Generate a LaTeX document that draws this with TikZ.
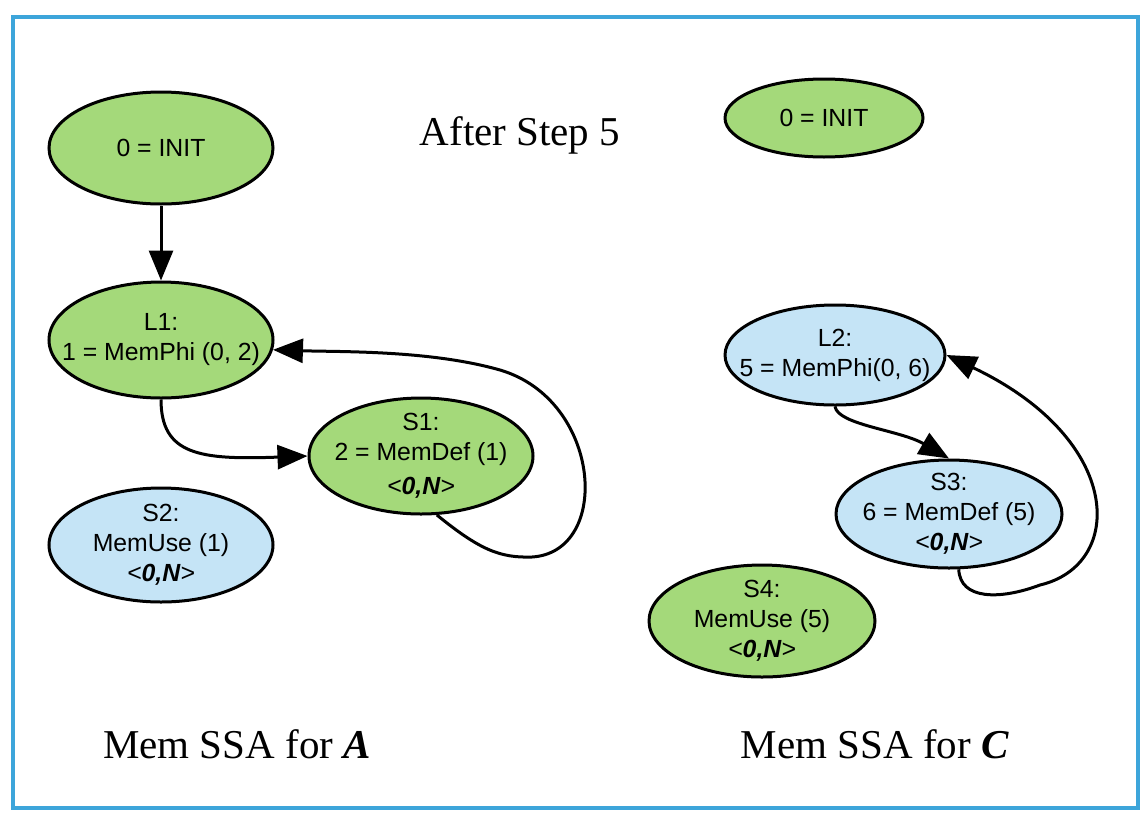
\documentclass[tikz,border=0pt]{standalone}
\usepackage{fontspec}
\setmainfont{Liberation Serif}
\newfontfamily\nodefont{Liberation Sans}
\usetikzlibrary{shapes.geometric,arrows.meta}
\definecolor{defgreen}{RGB}{164,217,122}
\definecolor{useblue}{RGB}{197,228,246}
\definecolor{frameblue}{RGB}{61,165,218}
\tikzset{
  memnode/.style={ellipse, draw=black, line width=3pt, inner xsep=-60pt, inner ysep=-40pt,
    align=center, font=\nodefont\fontsize{24.8}{30}\selectfont},
  greennode/.style={memnode, fill=defgreen},
  bluenode/.style={memnode, fill=useblue},
  arr/.style={draw=black, line width=3pt, -{Triangle[length=30pt,width=24pt]}},
  caption/.style={font=\fontsize{41}{48}\selectfont, anchor=base, inner sep=0pt}
}
\newcommand{\vers}{\textit{<\textbf{0,N}>}}
\begin{document}
\begin{tikzpicture}[x=1pt,y=-1pt]
  \useasboundingbox (0,0) rectangle (1147,817);
  \fill[white] (0,0) rectangle (1147,817);
  \draw[frameblue, line width=4pt] (13,16.5) rectangle (1138,808);

  % captions
  \node[caption] (title) at (520,145) {After Step 5};
  \node[caption] (capA) at (237,758) {Mem SSA for \textbf{\textit{A}}};
  \node[caption] (capC) at (875,758) {Mem SSA for \textbf{\textit{C}}};

  % Mem SSA for A
  \node[greennode, minimum width=224pt, minimum height=112pt] (initA) at (161,148) {0 = INIT};
  \node[greennode, minimum width=224pt, minimum height=116pt] (L1) at (161,340) {L1:\\1 = MemPhi (0, 2)};
  \node[greennode, minimum width=224pt, minimum height=116pt] (S1) at (421,456) {S1:\\2 = MemDef (1)\\[4pt]\vers};
  \node[bluenode, minimum width=224pt, minimum height=114pt] (S2) at (161,545) {S2:\\MemUse (1)\\\vers};

  % Mem SSA for C
  \node[greennode, minimum width=198pt, minimum height=78pt] (initC) at (824,118) {0 = INIT};
  \node[bluenode, minimum width=220pt, minimum height=100pt] (L2) at (835,355) {L2:\\5 = MemPhi(0, 6)};
  \node[bluenode, minimum width=226pt, minimum height=108pt] (S3) at (949,514) {S3:\\6 = MemDef (5)\\\vers};
  \node[greennode, minimum width=226pt, minimum height=112pt] (S4) at (762,621) {S4:\\MemUse (5)\\\vers};

  % def-use edges
  \draw[arr] (initA.south) -- (L1.north);
  \draw[arr] (L1.south) .. controls (161,455) and (200,460) .. (S1.west);
  \draw[arr] (S1.-75) .. controls (480,550) and (500,558) .. (532,557)
    .. controls (612,552) and (602,400) .. (500,370)
    .. controls (430,350) and (340,352) .. (L1.-5);
  \draw[arr] (L2.south) .. controls (838,425) and (900,430) .. (S3.north);
  \draw[arr] (S3.-80) .. controls (960,600) and (1000,600) .. (1040,585)
    .. controls (1125,565) and (1125,440) .. (L2.east);
\end{tikzpicture}
\end{document}
